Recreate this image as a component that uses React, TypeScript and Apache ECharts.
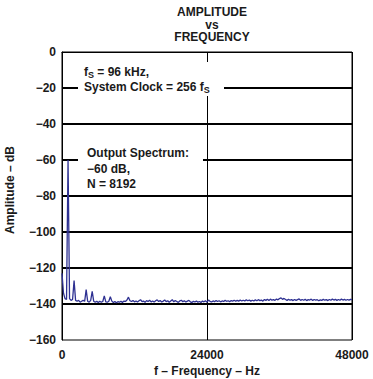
import React, { useEffect, useRef } from "react";
import * as echarts from "echarts";

// Frequency bin spacing of the spectrum (Hz)
const BIN_HZ = 250;

// Spectrum amplitude (dB) per bin, 0 Hz .. 48 kHz
const AMPLITUDE_DB: number[] = [
  -123, -134, -137, -137.5, -60, -137, -138, -137.5, -127, -138,
  -138.5, -138, -139, -138.5, -138, -138.5, -132, -138.5, -139, -138,
  -133, -138.5, -139, -138.5, -139.2, -138.5, -139, -138.6, -135.5, -138.8,
  -139, -138.5, -136, -138.4, -139.2, -138.6, -139.3, -138.7, -139, -138.5,
  -139.1, -138.4, -138.6, -137.8, -136.2, -138.2, -138.6, -138.1, -138.8, -138.3,
  -138.9, -138.2, -137.6, -138.7, -138.4, -139.0, -138.1, -138.6, -137.9, -138.8,
  -138.3, -138.9, -138.2, -137.7, -138.6, -138.1, -138.9, -138.4, -137.8, -138.7,
  -138.2, -139.0, -138.3, -137.6, -138.8, -138.1, -138.6, -139.1, -138.3, -137.9,
  -138.7, -138.2, -138.9, -138.4, -138.0, -138.8, -139.2, -138.5, -138.9, -138.3,
  -139.0, -138.6, -139.1, -138.4, -138.8, -138.2, -139.0, -137.8, -138.5, -138.9,
  -138.3, -138.7, -138.1, -138.6, -138.2, -138.8, -138.3, -138.6, -138.0, -138.5,
  -138.2, -138.7, -138.1, -138.4, -137.9, -138.5, -138.0, -138.4, -137.8, -138.3,
  -137.9, -138.3, -137.7, -138.2, -137.8, -138.4, -137.9, -138.3, -137.7, -138.2,
  -137.6, -138.1, -137.8, -138.4, -137.5, -138.0, -137.4, -138.1, -137.3, -137.9,
  -137.6, -138.0, -137.2, -137.7, -137.0, -136.6, -137.4, -136.9, -137.5, -138.0,
  -137.4, -137.9, -137.6, -138.1, -137.5, -138.0, -137.6, -137.2, -138.0, -137.5,
  -137.9, -137.4, -138.1, -137.6, -137.8, -137.3, -138.0, -137.5, -137.9, -137.6,
  -138.2, -137.7, -138.0, -137.4, -137.9, -137.6, -138.1, -137.5, -137.9, -137.3,
  -137.8, -137.4, -138.0, -137.5, -137.9, -137.3, -137.8, -137.4, -137.9, -137.5,
  -137.8, -137.4, -137.6,
];

// Axis settings
const X_MIN = 0;
const X_MAX = 48000;
const X_INTERVAL = 24000;
const Y_MIN = -160;
const Y_MAX = 0;
const Y_INTERVAL = 20;
// Heavy horizontal grid lines (dB)
const HEAVY_GRID_DB = [-20, -40, -60, -80, -100, -120, -140];

const TITLE_LINES = ["AMPLITUDE", "vs", "FREQUENCY"];
const X_NAME = "f – Frequency – Hz";
const Y_NAME = "Amplitude – dB";

const FONT = "'Liberation Sans', Arial, Helvetica, sans-serif";
const LINE_COLOR = "#2e3192";

export default function App() {
  const ref = useRef<HTMLDivElement | null>(null);

  useEffect(() => {
    if (!ref.current) return;
    const chart = echarts.init(ref.current, undefined, { renderer: "svg" });
    const data = AMPLITUDE_DB.map((v, i) => [i * BIN_HZ, v]);
    const fmtNeg = (v: number) => (v < 0 ? "\u2212" + Math.abs(v) : String(v));

    const textStyleBase = {
      fontFamily: FONT,
      fontSize: 12,
      fontWeight: "bold" as const,
      fill: "#1a1a1a",
    };

    chart.setOption({
      animation: false,
      backgroundColor: "#fff",
      title: {
        text: TITLE_LINES.join("\n"),
        left: 207,
        textAlign: "center",
        top: 1,
        textStyle: {
          fontFamily: FONT,
          fontSize: 12,
          fontWeight: "bold",
          color: "#1a1a1a",
          lineHeight: 12.5,
        },
      },
      grid: {
        left: 62,
        right: 21,
        top: 52,
        bottom: 39,
        show: true,
        borderColor: "#000",
        borderWidth: 1,
        backgroundColor: "transparent",
      },
      xAxis: {
        type: "value",
        min: X_MIN,
        max: X_MAX,
        interval: X_INTERVAL,
        axisLine: { show: true, lineStyle: { color: "#000", width: 1 } },
        axisTick: { show: false },
        axisLabel: {
          margin: 9,
          fontFamily: FONT,
          fontSize: 12,
          fontWeight: "bold",
          color: "#1a1a1a",
          formatter: (v: number) => String(v),
        },
        splitLine: { show: true, lineStyle: { color: "#000", width: 1 } },
      },
      yAxis: {
        type: "value",
        min: Y_MIN,
        max: Y_MAX,
        interval: Y_INTERVAL,
        axisLine: { show: true, lineStyle: { color: "#000", width: 1 } },
        axisTick: { show: false },
        axisLabel: {
          margin: 6,
          fontFamily: FONT,
          fontSize: 12,
          fontWeight: "bold",
          color: "#1a1a1a",
          formatter: fmtNeg,
        },
        splitLine: { show: false },
      },
      series: [
        {
          type: "line",
          data,
          showSymbol: false,
          symbol: "none",
          lineStyle: { color: LINE_COLOR, width: 1.3 },
          z: 3,
          markLine: {
            silent: true,
            symbol: "none",
            label: { show: false },
            lineStyle: { color: "#000", width: 2, type: "solid" },
            data: HEAVY_GRID_DB.map((y) => ({ yAxis: y })),
            z: 2,
          },
        },
      ],
      graphic: [
        // annotation box 1
        {
          type: "rect",
          z: 100,
          shape: { x: 78, y: 62, width: 146, height: 34 },
          style: { fill: "#fff" },
        },
        {
          type: "text",
          z: 101,
          x: 84,
          y: 72,
          style: {
            ...textStyleBase,
            text: "{a|f}{s|S}{a| = 96 kHz,}",
            verticalAlign: "middle",
            rich: {
              a: { fontFamily: FONT, fontSize: 12, fontWeight: "bold", color: "#1a1a1a" },
              s: { fontFamily: FONT, fontSize: 9, fontWeight: "bold", color: "#1a1a1a", padding: [5, 0, 0, 0] },
            },
          },
        },
        {
          type: "text",
          z: 101,
          x: 84,
          y: 87,
          style: {
            ...textStyleBase,
            text: "{a|System Clock = 256 f}{s|S}",
            verticalAlign: "middle",
            rich: {
              a: { fontFamily: FONT, fontSize: 12, fontWeight: "bold", color: "#1a1a1a" },
              s: { fontFamily: FONT, fontSize: 9, fontWeight: "bold", color: "#1a1a1a", padding: [5, 0, 0, 0] },
            },
          },
        },
        // annotation box 2
        {
          type: "rect",
          z: 100,
          shape: { x: 78, y: 144, width: 125, height: 48 },
          style: { fill: "#fff" },
        },
        {
          type: "text",
          z: 101,
          x: 87,
          y: 153,
          style: { ...textStyleBase, text: "Output Spectrum:", verticalAlign: "middle" },
        },
        {
          type: "text",
          z: 101,
          x: 87,
          y: 168.5,
          style: { ...textStyleBase, text: "\u221260 dB,", verticalAlign: "middle" },
        },
        {
          type: "text",
          z: 101,
          x: 87,
          y: 184,
          style: { ...textStyleBase, text: "N = 8192", verticalAlign: "middle" },
        },
        // axis names
        {
          type: "text",
          z: 101,
          x: 207,
          y: 371,
          style: { ...textStyleBase, text: X_NAME, align: "center", verticalAlign: "middle" },
        },
        {
          type: "text",
          z: 101,
          x: 10,
          y: 190,
          rotation: Math.PI / 2,
          style: { ...textStyleBase, text: Y_NAME, align: "center", verticalAlign: "middle" },
        },
      ],
    });

    return () => chart.dispose();
  }, []);

  return (
    <div
      ref={ref}
      style={{ position: "fixed", left: 0, top: 0, width: 373, height: 379, background: "#fff" }}
    />
  );
}
